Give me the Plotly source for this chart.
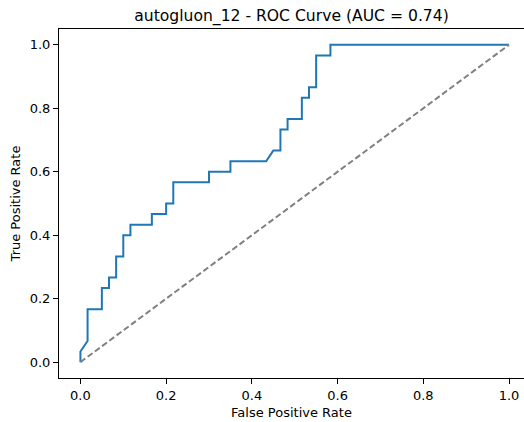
import plotly.graph_objects as go

# ROC curve points (60 negatives, 30 positives)
fpr_counts = [0, 0, 1, 1, 3, 3, 4, 4, 5, 5, 6, 6, 7, 7, 10, 10, 12, 12, 13, 13, 18, 18, 21, 21,
              26, 27, 28, 28, 29, 29, 31, 31, 32, 32, 33, 33, 35, 35, 60]
tpr_counts = [0, 1, 2, 5, 5, 7, 7, 8, 8, 10, 10, 12, 12, 13, 13, 14, 14, 15, 15, 17, 17, 18, 18, 19,
              19, 20, 20, 22, 22, 23, 23, 25, 25, 26, 26, 29, 29, 30, 30]
n_neg = 60
n_pos = 30
fpr = [c / n_neg for c in fpr_counts]
tpr = [c / n_pos for c in tpr_counts]

title_text = "autogluon_12 - ROC Curve (AUC = 0.74)"
tick_vals = [0.0, 0.2, 0.4, 0.6, 0.8, 1.0]
tick_text = ["0.0", "0.2", "0.4", "0.6", "0.8", "1.0"]

fig = go.Figure()
fig.add_trace(go.Scatter(x=fpr, y=tpr, mode="lines",
                         line=dict(color="#1f77b4", width=2), showlegend=False))
fig.add_trace(go.Scatter(x=[0, 1], y=[0, 1], mode="lines",
                         line=dict(color="#808080", width=2, dash="6px,3px"), showlegend=False))

font = dict(family="DejaVu Sans", size=13, color="#000000")
fig.update_layout(
    width=524, height=422,
    margin=dict(l=59, r=0, t=29, b=44, autoexpand=False),
    plot_bgcolor="white", paper_bgcolor="white",
    font=font,
    title=dict(text=title_text, x=0.5, xref="paper", xanchor="center",
               y=1 - 16 / 422, yanchor="middle",
               font=dict(family="DejaVu Sans", size=15.6, color="#000000")),
    xaxis=dict(range=[-0.05, 1.035], tickvals=tick_vals, ticktext=tick_text,
               showgrid=False, zeroline=False, showline=True, linecolor="black", linewidth=1,
               mirror=True, ticks="outside", ticklen=5, tickcolor="black", automargin=False,
               title=dict(text="False Positive Rate", standoff=6, font=dict(size=13))),
    yaxis=dict(range=[-0.05, 1.05], tickvals=tick_vals, ticktext=tick_text,
               showgrid=False, zeroline=False, showline=True, linecolor="black", linewidth=1,
               ticks="outside", ticklen=5, tickcolor="black", automargin=False,
               title=dict(text="True Positive Rate", standoff=6, font=dict(size=13))),
)
fig.write_html("out.html", config={"displayModeBar": False},
               post_script="document.body.style.margin='0px';document.body.style.overflow='hidden';")
